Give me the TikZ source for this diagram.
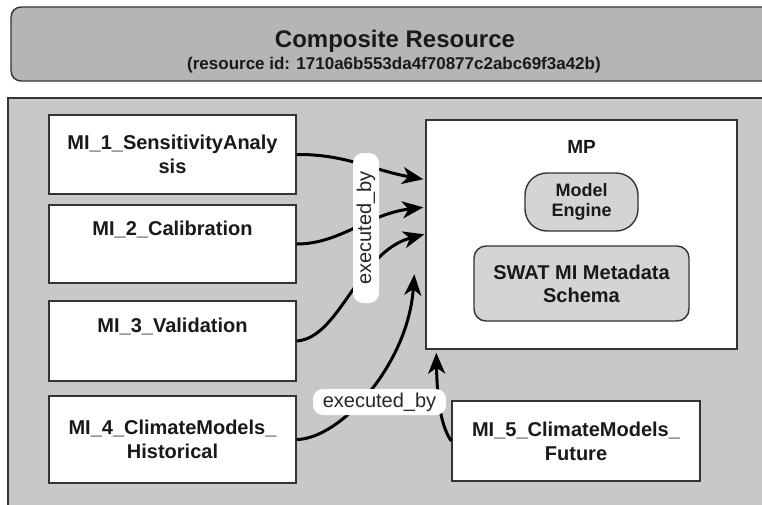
\documentclass[tikz,border=0pt]{standalone}
\usepackage{fontspec}
\setmainfont{Liberation Sans}
\usetikzlibrary{arrows.meta,calc}
\definecolor{headgray}{HTML}{B5B5B5}
\definecolor{areagray}{HTML}{C8C8C8}
\definecolor{partgray}{HTML}{D4D4D4}
\definecolor{edgeline}{HTML}{333333}
\begin{document}
\begin{tikzpicture}[x=1pt,y=-1pt,
  frame/.style={draw=edgeline, line width=1.4pt},
  mibox/.style={frame, fill=white, inner sep=0pt, align=center,
    font=\fontsize{20}{24}\selectfont\bfseries, text=black!90},
  part/.style={frame, fill=partgray, inner sep=0pt, align=center,
    font=\fontsize{20}{23}\selectfont\bfseries, text=black!90},
  link/.style={line width=3pt, black, -{Stealth[length=21pt,width=17pt,inset=6pt]}},
  tag/.style={fill=white, rounded corners=10pt, inner sep=0pt,
    font=\fontsize{20}{24}\selectfont, text=black!85,
    minimum height=26pt}
]
\useasboundingbox (0,0) rectangle (762,504);
\clip (0,0) rectangle (762,504);
\fill[white] (0,0) rectangle (762,504);

% header of the composite resource
\draw[frame, fill=headgray, rounded corners=10pt] (11,7) rectangle (800,81);
\node[anchor=base, font=\fontsize{24}{28}\selectfont\bfseries, text=black!90]
  (title) at (395,47) {Composite Resource};
\node[anchor=base, font=\fontsize{17}{20}\selectfont\bfseries, text=black!90]
  (rid) at (394,69) {(resource id: 1710a6b553da4f70877c2abc69f3a42b)};

% content area
\draw[frame, fill=areagray] (8,98) rectangle (800,540);

% model instances
\node[mibox, minimum width=247pt, minimum height=79pt] (mi1) at (172.5,154.5)
  {MI\_1\_SensitivityAnaly\\sis};
\node[mibox, minimum width=247pt, minimum height=78pt] (mi2) at (172.5,244)
  {MI\_2\_Calibration\\\strut};
\node[mibox, minimum width=247pt, minimum height=80pt] (mi3) at (172.5,341)
  {MI\_3\_Validation\\\strut};
\node[mibox, minimum width=247pt, minimum height=87pt] (mi4) at (172.5,439.5)
  {MI\_4\_ClimateModels\_\\Historical};
\node[mibox, minimum width=248pt, minimum height=80pt] (mi5) at (576,441)
  {MI\_5\_ClimateModels\_\\Future};

% model program
\node[frame, fill=white, minimum width=311pt, minimum height=229pt, inner sep=0pt]
  (mp) at (581.5,234.5) {};
\node[anchor=base, font=\fontsize{19}{22}\selectfont\bfseries, text=black!90]
  (mptitle) at (581.5,153) {MP};
\node[part, rounded corners=22pt, minimum width=113pt, minimum height=58pt,
  font=\fontsize{18}{20}\selectfont\bfseries] (eng) at (581.5,202) {Model\\Engine};
\node[part, rounded corners=12pt, minimum width=215pt, minimum height=75pt]
  (swat) at (581.5,283.5) {SWAT MI Metadata\\Schema};

% arrow ends on the model program
\coordinate (t1) at ([shift={(-2pt,-60pt)}]mp.north west);
\coordinate (t2) at ([shift={(-2pt,-88pt)}]mp.north west);
\coordinate (t3) at ([shift={(-1pt,-115pt)}]mp.north west);
\coordinate (t4) at ([shift={(-11pt,-155pt)}]mp.north west);
\coordinate (t5) at ([shift={(11pt,-3pt)}]mp.south west);

% executed_by relations
\draw[link] (mi1.east) .. controls (345,154) and (372,170) .. (t1);
\draw[link] (mi2.east) .. controls (340,244) and (368,214) .. (t2);
\draw[link] (mi3.east) .. controls (340,338) and (358,252) .. (t3);
\draw[link] (mi4.east) .. controls (340,439) and (408,365) .. (t4);
\draw[link] (mi5.west) .. controls (440,425) and (437,395) .. (t5);

% relation labels
\node[tag, rotate=90, minimum width=150pt] (lblA) at (366,228) {executed\_by};
\node[tag, minimum width=133pt] (lblB) at (379.5,402) {executed\_by};
\end{tikzpicture}
\end{document}
